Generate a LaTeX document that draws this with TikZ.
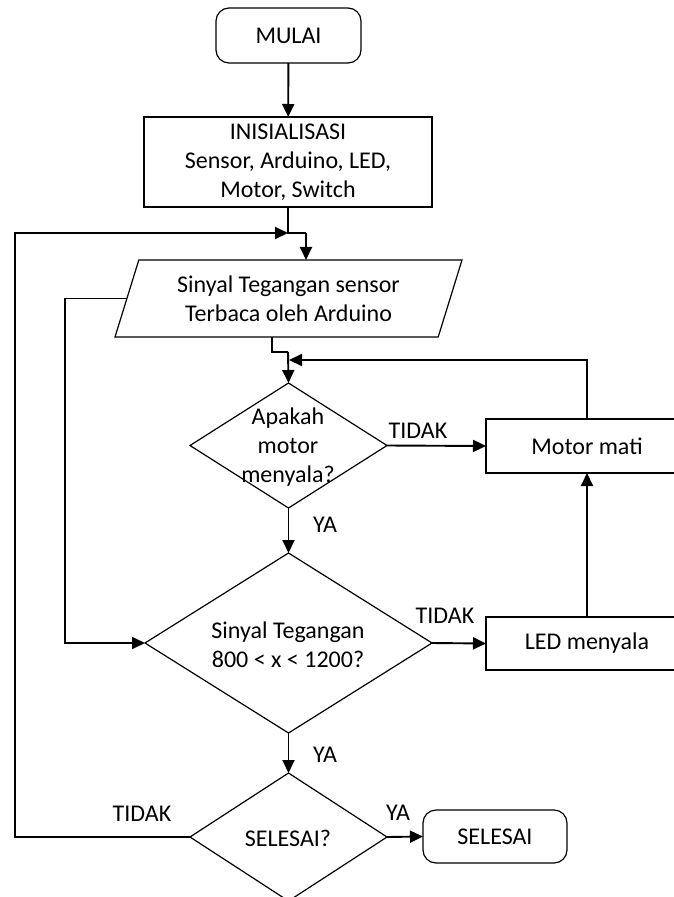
\documentclass[tikz,border=0pt]{standalone}
\usepackage{fontspec}
\setmainfont{Carlito}
\usetikzlibrary{shapes.geometric,arrows.meta}

\begin{document}
\begin{tikzpicture}[x=1pt, y=-1pt,
  font=\fontsize{24pt}{29pt}\selectfont,
  box/.style={shape=rectangle, draw, line width=1.2pt, outer sep=0pt, align=center},
  term/.style={box, rounded corners=13pt},
  decision/.style={shape=diamond, draw, line width=1.2pt, outer sep=0pt, inner sep=0pt},
  io/.style={shape=trapezium, draw, line width=1.2pt, outer sep=0pt, align=center,
    trapezium left angle=65.6, trapezium right angle=114.4, trapezium stretches body},
  lbl/.style={inner sep=0pt, align=center},
  flow/.style={line width=1.9pt, -{Triangle[length=13pt,width=12pt]}},
  link/.style={line width=1.9pt}]
 \useasboundingbox (0,0) rectangle (674,897);

 \node (mulai) at (288.5,35.5) [term, minimum width=145pt, minimum height=55pt] {MULAI};
 \node (inis) at (288,162) [box, minimum width=288pt, minimum height=90pt] {INISIALISASI\\Sensor, Arduino, LED,\\Motor, Switch};
 \node (baca) at (288.5,298.5) [io, minimum width=347pt, minimum height=77pt] {Sinyal Tegangan sensor\\Terbaca oleh Arduino};
 \node (cekmotor) at (288.5,445.5) [decision, minimum width=197pt, minimum height=125pt] {};
 \node (cekmotortxt) at (288,447) [lbl] {Apakah\\motor\\menyala?};
 \node (motormati) at (587,446) [box, minimum width=202pt, minimum height=54pt] {Motor mati};
 \node (ceksinyal) at (288.5,643) [decision, minimum width=287pt, minimum height=180pt] {};
 \node (ceksinyaltxt) at (288,645) [lbl] {Sinyal Tegangan\\800 < x < 1200?};
 \node (ledmenyala) at (587,643.5) [box, minimum width=202pt, minimum height=53pt] {LED menyala};
 \node (cekselesai) at (288.5,837) [decision, minimum width=197pt, minimum height=128pt] {};
 \node (cekselesaitxt) at (288,838) [lbl] {SELESAI?};
 \node (selesai) at (495,836.5) [term, minimum width=144pt, minimum height=53pt] {SELESAI};

 \coordinate (j1) at (288,233);
 \coordinate (j1r) at (306,233);
 \coordinate (j2) at (272,352);
 \coordinate (j2r) at (288,352);
 \coordinate (ret) at (289,360);
 \coordinate (l1) at (15,0);
 \coordinate (l2) at (65,0);

 \draw [flow] (mulai) -- (inis);
 \draw [link] (inis) -- (j1) -- (j1r);
 \draw [flow] (j1r) -- (j1r |- baca.north);
 \draw [link] (j2 |- baca.south) -- (j2) -- (j2r);
 \draw [flow] (j2r) -- (cekmotor.north);
 \draw [flow] (motormati.north) |- (ret);
 \draw [flow] (cekmotor.east) -- (motormati.west);
 \draw [flow] (cekmotor.south) -- (ceksinyal.north);
 \draw [flow] (ceksinyal.east) -- (ledmenyala.west);
 \draw [flow] (ledmenyala) -- (motormati);
 \draw [flow] (ceksinyal.south) -- (cekselesai.north);
 \draw [flow] (cekselesai.east) -- (selesai.west);
 \draw [flow] (baca.west) -- (baca.west -| l2) |- (ceksinyal.west);
 \draw [flow] (cekselesai.west) -- (cekselesai.west -| l1) |- (j1);

 \node (tidak1) at (418,431) [lbl] {TIDAK};
 \node (tidak2) at (445,616) [lbl] {TIDAK};
 \node (tidak3) at (142,814) [lbl] {TIDAK};
 \node (ya1) at (325,525) [lbl] {YA};
 \node (ya2) at (325,755) [lbl] {YA};
 \node (ya3) at (398,813) [lbl] {YA};
\end{tikzpicture}
\end{document}
